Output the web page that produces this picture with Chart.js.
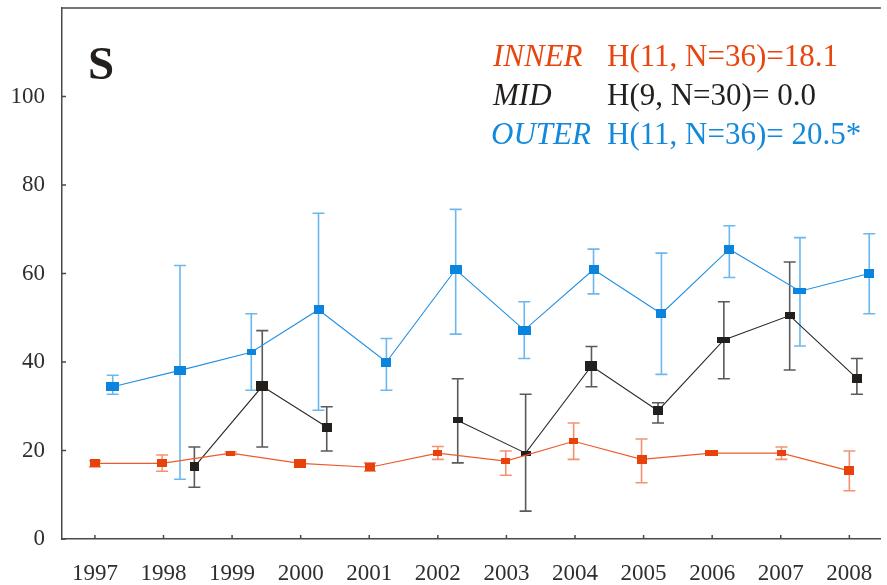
<!DOCTYPE html>
<html>
<head>
<meta charset="utf-8">
<script src="https://cdn.jsdelivr.net/npm/chart.js@4.4.1/dist/chart.umd.min.js"></script>
<style>
  html, body { margin: 0; padding: 0; background: #ffffff; }
  #wrap { position: relative; width: 887px; height: 585px; overflow: hidden; background: #fff; }
  #c { position: absolute; left: 0; top: 0; }
  .t { position: absolute; font-family: "Liberation Serif", "DejaVu Serif", serif; font-size: 31px; line-height: 31px; white-space: nowrap; }
  .it { font-style: italic; }
  .red { color: #e8460f; }
  .blk { color: #231f1c; }
  .blu { color: #1389dc; }
  #panel { position: absolute; left: 88px; top: 40px; font-family: "Liberation Serif", serif; font-weight: bold; font-size: 47px; line-height: 47px; color: #231f1c; }
</style>
</head>
<body>
<div id="wrap">
  <canvas id="c" width="887" height="585"></canvas>
  <div id="panel">S</div>
  <div class="t it red" style="left:493px; top:40px;">INNER</div>
  <div class="t red" style="left:607px; top:40px;">H(11, N=36)=18.1</div>
  <div class="t it blk" style="left:493px; top:79px;">MID</div>
  <div class="t blk" style="left:607px; top:79px;">H(9, N=30)= 0.0</div>
  <div class="t it blu" style="left:491px; top:118px;">OUTER</div>
  <div class="t blu" style="left:607px; top:118px;">H(11, N=36)= 20.5*</div>
</div>
<script>
// ---- data ----
const years = [1997, 1998, 1999, 2000, 2001, 2002, 2003, 2004, 2005, 2006, 2007, 2008];
const yTicks = [0, 20, 40, 60, 80, 100];

// INNER (sampling year, mean, upper, lower)
const innerYear = [1997.0, 1997.98, 1998.98, 1999.99, 2001.01, 2002.0, 2002.99, 2003.98, 2004.97, 2005.99, 2007.01, 2008.0];
const innerMean = [17.1, 17.1, 19.4, 17.1, 16.2, 19.4, 17.6, 22.1, 18.0, 19.4, 19.4, 15.4];
const innerHi   = [17.7, 19.0, 19.7, 17.4, 17.2, 20.9, 19.9, 26.2, 22.6, 19.6, 20.8, 19.9];
const innerLo   = [16.3, 15.3, 19.1, 16.8, 15.3, 18.0, 14.4, 18.0, 12.7, 19.2, 18.0, 10.9];

// MID (no sample in 1997 and 2001)
const midYear = [1998.45, 1999.44, 2000.38, 2001.3, 2002.29, 2003.28, 2004.24, 2005.21, 2006.17, 2007.13, 2008.11];
const midMean = [16.3, 34.5, 25.3, null, 26.8, 19.4, 39.1, 29.0, 45.0, 50.5, 36.3];
const midHi   = [20.8, 47.1, 29.9, null, 36.2, 32.7, 43.5, 30.8, 53.6, 62.6, 40.8];
const midLo   = [11.7, 20.8, 19.9, null, 17.2, 6.3, 34.4, 26.2, 36.2, 38.2, 32.7];

// OUTER
const outerYear = [1997.26, 1998.24, 1999.28, 2000.26, 2001.25, 2002.26, 2003.26, 2004.27, 2005.26, 2006.25, 2007.28, 2008.29];
const outerMean = [34.4, 38.1, 42.2, 51.8, 40.0, 60.9, 47.2, 60.9, 50.9, 65.5, 56.0, 60.0];
const outerHi   = [37.0, 61.8, 50.9, 73.6, 45.3, 74.5, 53.6, 65.5, 64.6, 70.8, 68.1, 69.0];
const outerLo   = [32.7, 13.5, 33.6, 29.1, 33.6, 46.3, 40.8, 55.4, 37.2, 59.1, 43.6, 50.9];

// ---- styles ----
const RED = '#e8420c', RED_LINE = '#ee5a2a', RED_ERR = '#f39272';
const BLK = '#231f1c', BLK_LINE = '#2a2a2a', BLK_ERR = '#5a5a5a';
const BLU = '#0a84dc', BLU_LINE = '#2290e0', BLU_ERR = '#6cb8ee';

// marker sizes [w, h]
const innerSizes = [[10,8],[10,8],[9,5],[12,9],[10,8],[9,6],[9,6],[9,6],[10,9],[13,6],[9,6],[10,9]];
const midSizes   = [[9,9],[12,10],[10,9],null,[10,6],[10,5],[12,10],[10,9],[13,6],[10,7],[10,9]];
const outerSizes = [[13,9],[12,9],[9,6],[10,9],[10,9],[12,9],[13,9],[10,9],[10,9],[10,9],[13,6],[10,9]];

function marker(size, color) {
  const c = document.createElement('canvas');
  const w = size ? size[0] : 1, h = size ? size[1] : 1;
  c.width = w; c.height = h;
  const g = c.getContext('2d');
  if (size) { g.fillStyle = color; g.fillRect(0, 0, w, h); }
  return c;
}

function pts(xs, ys) { return xs.map((x, i) => ({ x: x, y: ys[i] })); }

const errorBars = {
  id: 'errorBars',
  beforeDatasetsDraw(chart) {
    const ctx = chart.ctx, xs = chart.scales.x, ys = chart.scales.y;
    ctx.save();
    chart.data.datasets.forEach(ds => {
      ctx.strokeStyle = ds.errColor;
      ctx.lineWidth = 1.6;
      ds.data.forEach((p, i) => {
        const hi = ds.errHi[i], lo = ds.errLo[i];
        if (p.y == null || hi == null || lo == null) return;
        const px = xs.getPixelForValue(p.x);
        const yh = ys.getPixelForValue(hi), yl = ys.getPixelForValue(lo);
        ctx.beginPath();
        ctx.moveTo(px, yh); ctx.lineTo(px, yl);
        ctx.moveTo(px - 6, yh); ctx.lineTo(px + 6, yh);
        ctx.moveTo(px - 6, yl); ctx.lineTo(px + 6, yl);
        ctx.stroke();
      });
    });
    ctx.restore();
  }
};

const frame = {
  id: 'frame',
  afterDraw(chart) {
    const ctx = chart.ctx, a = chart.chartArea, xs = chart.scales.x, ys = chart.scales.y;
    ctx.save();
    ctx.strokeStyle = '#4a4a4a';
    ctx.lineWidth = 1.5;
    ctx.beginPath();
    ctx.moveTo(a.left, a.top); ctx.lineTo(a.right, a.top);
    ys.ticks.forEach(t => {
      const y = ys.getPixelForValue(t.value);
      ctx.moveTo(a.left, y); ctx.lineTo(a.left + 4, y);
    });
    xs.ticks.forEach(t => {
      const x = xs.getPixelForValue(t.value);
      ctx.moveTo(x, a.bottom); ctx.lineTo(x, a.bottom - 4);
    });
    ctx.stroke();
    ctx.restore();
  }
};

const tickFont = { family: "'Liberation Serif', 'Times New Roman', serif", size: 23 };

function draw() {
new Chart(document.getElementById('c'), {
  type: 'line',
  data: {
    datasets: [
      {
        label: 'INNER', data: pts(innerYear, innerMean),
        borderColor: RED_LINE, borderWidth: 1.1, tension: 0,
        pointStyle: innerSizes.map(s => marker(s, RED)), pointRadius: 5,
        errHi: innerHi, errLo: innerLo, errColor: RED_ERR
      },
      {
        label: 'MID', data: pts(midYear, midMean),
        borderColor: BLK_LINE, borderWidth: 1.1, tension: 0, spanGaps: false,
        pointStyle: midSizes.map(s => marker(s, BLK)), pointRadius: 5,
        errHi: midHi, errLo: midLo, errColor: BLK_ERR
      },
      {
        label: 'OUTER', data: pts(outerYear, outerMean),
        borderColor: BLU_LINE, borderWidth: 1.1, tension: 0,
        pointStyle: outerSizes.map(s => marker(s, BLU)), pointRadius: 5,
        errHi: outerHi, errLo: outerLo, errColor: BLU_ERR
      }
    ]
  },
  options: {
    responsive: false,
    animation: false,
    events: [],
    layout: { padding: { top: 8, left: 0, right: 0, bottom: 0 } },
    plugins: { legend: { display: false }, tooltip: { enabled: false }, title: { display: false } },
    scales: {
      x: {
        type: 'linear', min: 1996.52, max: 2008.46,
        afterBuildTicks: s => { s.ticks = years.map(v => ({ value: v })); },
        ticks: { callback: v => String(v), font: tickFont, color: '#2e2e2e', padding: 21, maxRotation: 0, autoSkip: false },
        grid: { display: false, drawTicks: false },
        border: { display: true, color: '#4a4a4a', width: 1.5 },
        afterFit: s => { s.height = 46; s.paddingLeft = 0; s.paddingRight = 0; }
      },
      y: {
        type: 'linear', min: 0, max: 120,
        afterBuildTicks: s => { s.ticks = yTicks.map(v => ({ value: v })); },
        ticks: { callback: v => String(v), font: tickFont, color: '#2e2e2e', padding: 17 },
        grid: { display: false, drawTicks: false },
        border: { display: true, color: '#4a4a4a', width: 1.5 },
        afterFit: s => { s.width = 62; s.paddingTop = 0; s.paddingBottom = 0; }
      }
    }
  },
  plugins: [errorBars, frame]
});
}
if (document.fonts && document.fonts.load) {
  document.fonts.load("23px 'Liberation Serif'").then(draw, draw);
} else { draw(); }
</script>
</body>
</html>
